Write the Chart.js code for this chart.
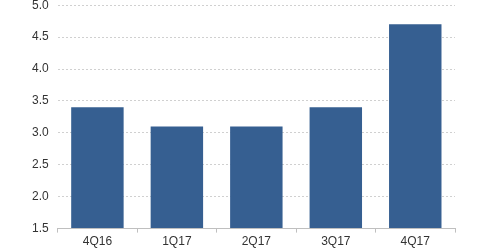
<!DOCTYPE html>
<html>
<head>
<meta charset="utf-8">
<script src="https://cdn.jsdelivr.net/npm/chart.js@4.4.1/dist/chart.umd.min.js"></script>
<style>
  html, body { margin: 0; padding: 0; background: #fff; overflow: hidden; }
  #wrap { width: 480px; height: 262px; margin-top: -11px; }
</style>
</head>
<body>
<div id="wrap"><canvas id="barChart"></canvas></div>
<script>
const quarters = ['4Q16', '1Q17', '2Q17', '3Q17', '4Q17'];
const values = [3.4, 3.1, 3.1, 3.4, 4.7];
const yMin = 1.5;
const yMax = 5.0;
const yStep = 0.5;

const ctx = document.getElementById('barChart').getContext('2d');
new Chart(ctx, {
  type: 'bar',
  data: {
    labels: quarters,
    datasets: [{
      data: values,
      backgroundColor: '#365f91',
      categoryPercentage: 0.66,
      barPercentage: 1.0,
      base: yMin
    }]
  },
  options: {
    responsive: true,
    maintainAspectRatio: false,
    animation: false,
    layout: { padding: { top: 0, right: 25, left: 23, bottom: 0 } },
    plugins: {
      legend: { display: false },
      tooltip: { enabled: false }
    },
    scales: {
      x: {
        grid: {
          offset: true,
          drawOnChartArea: false,
          drawTicks: true,
          tickLength: 4,
          color: '#bfbfbf'
        },
        border: { color: '#bfbfbf', width: 1 },
        ticks: {
          color: '#333',
          font: { family: 'Liberation Sans, Arial', size: 12 },
          padding: 2
        }
      },
      y: {
        min: yMin,
        max: yMax,
        grid: {
          color: '#d0d0d0',
          drawTicks: false
        },
        border: { display: false, dash: [2, 2] },
        ticks: {
          stepSize: yStep,
          color: '#333',
          padding: 9,
          font: { family: 'Liberation Sans, Arial', size: 12 },
          callback: v => v.toFixed(1)
        }
      }
    }
  }
});
</script>
</body>
</html>
